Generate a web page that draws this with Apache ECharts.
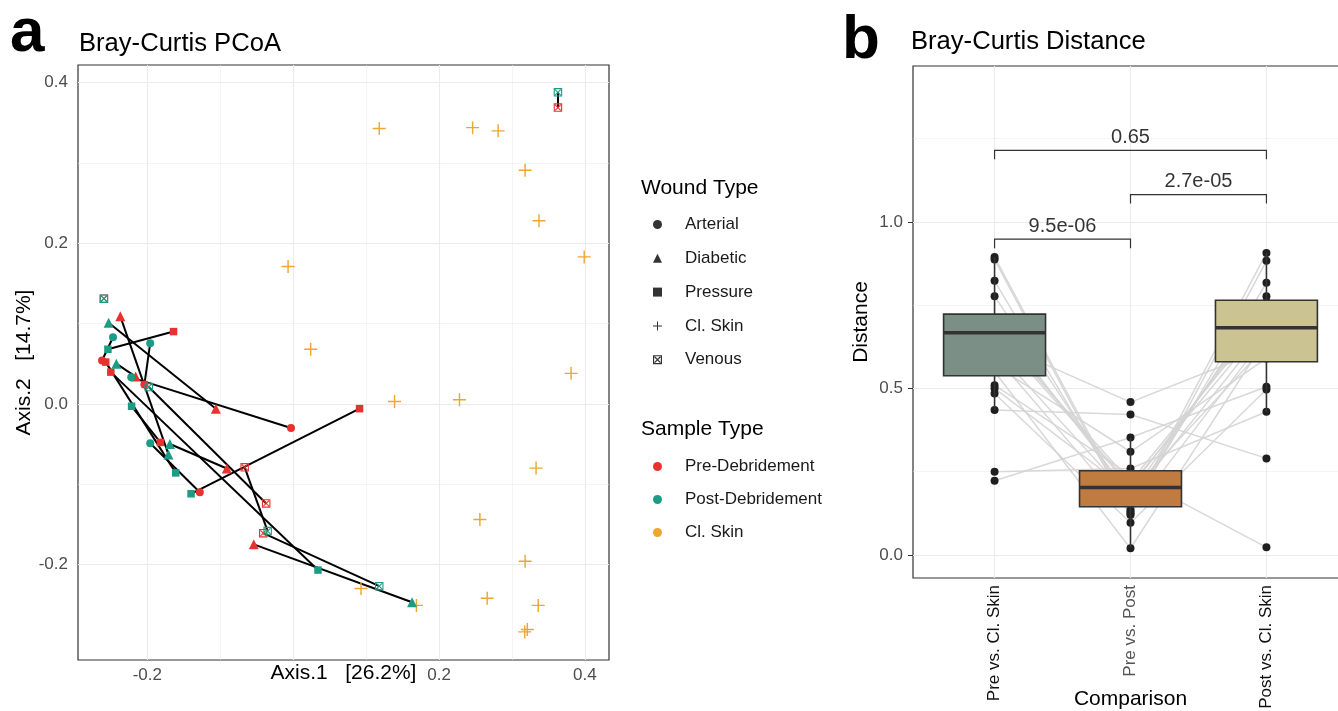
<!DOCTYPE html>
<html>
<head>
<meta charset="utf-8">
<title>Bray-Curtis PCoA / Distance</title>
<script src="https://cdn.jsdelivr.net/npm/echarts@6/dist/echarts.min.js"></script>
<style>
  html, body { margin: 0; padding: 0; background: #fff; }
  #chart { width: 1338px; height: 711px; }
</style>
</head>
<body>
<div id="chart"></div>
<script>
// ---- panel a: PCoA coordinates, [Axis.1, Axis.2, wound type, subject] ----
var preDebridement = [
  [-0.2595, 0.131, 'Venous', 1],
  [0.363, 0.369, 'Venous', 2],
  [-0.164, 0.090, 'Pressure', 3],
  [-0.106, -0.006, 'Diabetic', 4],
  [-0.204, 0.024, 'Arterial', 5],
  [-0.003, -0.030, 'Arterial', 6],
  [0.091, -0.006, 'Pressure', 7],
  [-0.128, -0.110, 'Arterial', 8],
  [-0.237, 0.109, 'Diabetic', 9],
  [-0.0665, -0.079, 'Venous', 10],
  [-0.041, -0.161, 'Venous', 11],
  [-0.054, -0.175, 'Diabetic', 12],
  [-0.250, 0.0395, 'Pressure', 13],
  [-0.037, -0.124, 'Venous', 14],
  [-0.262, 0.054, 'Arterial', 15],
  [-0.257, 0.052, 'Pressure', 16],
  [-0.182, -0.048, 'Pressure', 17],
  [-0.216, 0.034, 'Diabetic', 18],
  [-0.091, -0.0805, 'Diabetic', 19]
];
var postDebridement = [
  [-0.2595, 0.131, 'Venous', 1],
  [0.363, 0.388, 'Venous', 2],
  [-0.254, 0.068, 'Pressure', 3],
  [-0.253, 0.101, 'Diabetic', 4],
  [-0.196, 0.0756, 'Arterial', 5],
  [-0.222, 0.033, 'Arterial', 6],
  [-0.140, -0.112, 'Pressure', 7],
  [-0.196, -0.049, 'Arterial', 8],
  [-0.171, -0.063, 'Diabetic', 9],
  [-0.035, -0.1585, 'Venous', 10],
  [0.118, -0.227, 'Venous', 11],
  [0.163, -0.247, 'Diabetic', 12],
  [0.034, -0.207, 'Pressure', 13],
  [-0.198, 0.021, 'Venous', 14],
  [-0.247, 0.083, 'Arterial', 15],
  [-0.161, -0.086, 'Pressure', 16],
  [-0.2215, -0.003, 'Pressure', 17],
  [-0.2425, 0.050, 'Diabetic', 18],
  [-0.169, -0.050, 'Diabetic', 19]
];
var clSkin = [
  [0.118, 0.343], [0.246, 0.344], [0.281, 0.340], [0.318, 0.291],
  [0.337, 0.228], [0.399, 0.183], [-0.007, 0.171], [0.024, 0.068],
  [0.381, 0.038], [0.139, 0.003], [0.228, 0.005], [0.333, -0.080],
  [0.256, -0.144], [0.318, -0.196], [0.093, -0.230], [0.169, -0.251],
  [0.266, -0.242], [0.336, -0.251], [0.3175, -0.284], [0.321, -0.281]
];
var woundTypes = ['Arterial', 'Diabetic', 'Pressure', 'Cl. Skin', 'Venous'];
var sampleTypes = ['Pre-Debridement', 'Post-Debridement', 'Cl. Skin'];
var pcoaTicks = [-0.2, 0, 0.2, 0.4];
var pcoaMinor = [-0.1, 0.1, 0.3];

// ---- panel b: Bray-Curtis distance per subject ----
var comparisons = ['Pre vs. Cl. Skin', 'Pre vs. Post', 'Post vs. Cl. Skin'];
var preVsClSkin = [0.895, 0.887, 0.823, 0.777, 0.71, 0.69, 0.675, 0.667, 0.64, 0.62,
  0.60, 0.57, 0.55, 0.51, 0.50, 0.485, 0.435, 0.25, 0.223];
var preVsPost = [0.13, 0.12, 0.135, 0.16, 0.18, 0.20, 0.22, 0.21, 0.459, 0.17,
  0.125, 0.31, 0.02, 0.24, 0.19, 0.097, 0.422, 0.26, 0.353];
var postVsClSkin = [0.907, 0.883, 0.817, 0.777, 0.76, 0.74, 0.72, 0.70, 0.62, 0.68,
  0.66, 0.59, 0.65, 0.023, 0.63, 0.497, 0.29, 0.43, 0.505];
// lower whisker, Q1, median, Q3, upper whisker
var boxStats = [
  [0.435, 0.538, 0.667, 0.723, 0.895],
  [0.02, 0.145, 0.203, 0.253, 0.353],
  [0.43, 0.58, 0.682, 0.765, 0.907]
];
var pLabels = ['9.5e-06', '2.7e-05', '0.65'];
var pPairs = [[1, 2], [2, 3], [1, 3]];
var pHeights = [0.948, 1.082, 1.215];
var distTicks = [0, 0.5, 1];
var distMinor = [0.25, 0.75, 1.25];

var colors = {
  'Pre-Debridement': '#e8322f',
  'Post-Debridement': '#1c9c85',
  'Cl. Skin': '#eea632'
};
var boxColors = ['#7b8f86', '#bf7b40', '#cbc392'];

var FONT = 'Liberation Sans, Arial, Helvetica, sans-serif';

// symbol shapes for wound type
var shapes = {
  'Arterial': 'circle',
  'Diabetic': 'triangle',
  'Pressure': 'rect',
  'Cl. Skin': 'path://M4.45,0H5.55V4.45H10V5.55H5.55V10H4.45V5.55H0V4.45H4.45Z',
  'Venous': 'path://M0,0H10V10H0ZM1.3,1.3V8.7H8.7V1.3Z' +
    'M1.3,2.2L2.2,1.3L8.7,7.8L7.8,8.7Z' +
    'M7.8,1.3L8.7,2.2L2.2,8.7L1.3,7.8Z'
};
var shapeSizes = {'Arterial': 8, 'Diabetic': 10, 'Pressure': 7.5, 'Cl. Skin': 13, 'Venous': 8.5};

function gridLines(values, axis, width) {
  return values.map(function (v) {
    var o = {lineStyle: {width: width}};
    o[axis] = v;
    return o;
  });
}

// pre -> post connecting segments, matched by subject
var pairSegments = [];
preDebridement.forEach(function (p) {
  postDebridement.forEach(function (q) {
    if (q[3] === p[3]) pairSegments.push({coords: [[p[0], p[1]], [q[0], q[1]]]});
  });
});

// per-subject grey paths through the three comparisons
var subjectPaths = preVsClSkin.map(function (v, i) {
  return {coords: [[1, v], [2, preVsPost[i]], [3, postVsClSkin[i]]]};
});
var distPoints = [];
[preVsClSkin, preVsPost, postVsClSkin].forEach(function (arr, k) {
  arr.forEach(function (v) { distPoints.push([k + 1, v]); });
});

var brackets = pPairs.map(function (pr, i) {
  var h = pHeights[i], d = 0.027;
  return {coords: [[pr[0], h - d], [pr[0], h], [pr[1], h], [pr[1], h - d]]};
});
var bracketLabels = pPairs.map(function (pr, i) {
  return {value: [(pr[0] + pr[1]) / 2, pHeights[i]], label: {formatter: pLabels[i]}};
});

function scatterSeries(name, data) {
  return {
    name: name,
    type: 'scatter',
    xAxisIndex: 0, yAxisIndex: 0,
    data: data,
    symbol: function (val) { return shapes[val[2] || 'Cl. Skin']; },
    symbolSize: function (val) { return shapeSizes[val[2] || 'Cl. Skin']; },
    itemStyle: {color: colors[name], opacity: 1},
    z: 5
  };
}

var chart = echarts.init(document.getElementById('chart'), null, {renderer: 'canvas'});

var series = [
  {
    type: 'lines',
    coordinateSystem: 'cartesian2d',
    xAxisIndex: 0, yAxisIndex: 0,
    data: pairSegments,
    lineStyle: {color: '#000', width: 2, opacity: 1},
    silent: true,
    z: 3,
    markLine: {
      silent: true, symbol: 'none', label: {show: false},
      lineStyle: {color: '#ebebeb', type: 'solid'},
      data: gridLines(pcoaTicks, 'xAxis', 1.1).concat(gridLines(pcoaTicks, 'yAxis', 1.1))
        .concat(gridLines(pcoaMinor, 'xAxis', 0.55)).concat(gridLines(pcoaMinor, 'yAxis', 0.55)),
      z: 1
    }
  },
  scatterSeries('Cl. Skin', clSkin),
  scatterSeries('Pre-Debridement', preDebridement),
  scatterSeries('Post-Debridement', postDebridement)
];

// legend-only series for wound type shapes
woundTypes.forEach(function (w) {
  series.push({
    name: 'shape:' + w,
    type: 'scatter',
    xAxisIndex: 0, yAxisIndex: 0,
    data: [],
    symbol: shapes[w],
    itemStyle: {color: '#000'}
  });
});

series.push(
  {
    type: 'lines',
    coordinateSystem: 'cartesian2d',
    xAxisIndex: 1, yAxisIndex: 1,
    polyline: true,
    data: subjectPaths,
    lineStyle: {color: '#d4d4d4', width: 1.5, opacity: 0.9},
    silent: true,
    z: 2,
    markLine: {
      silent: true, symbol: 'none', label: {show: false},
      lineStyle: {color: '#ebebeb', type: 'solid'},
      data: gridLines([1, 2, 3], 'xAxis', 1.1).concat(gridLines(distTicks, 'yAxis', 1.1))
        .concat(gridLines(distMinor, 'yAxis', 0.55)),
      z: 1
    }
  },
  {
    type: 'scatter',
    xAxisIndex: 1, yAxisIndex: 1,
    data: distPoints,
    symbol: 'circle',
    symbolSize: 8,
    itemStyle: {color: '#1f1f1f', opacity: 1},
    z: 3
  },
  {
    type: 'custom',
    xAxisIndex: 1, yAxisIndex: 1,
    data: boxStats.map(function (b, i) { return [i + 1].concat(b); }),
    encode: {x: 0, y: [1, 2, 3, 4, 5]},
    z: 4,
    renderItem: function (params, api) {
      var x = api.value(0);
      var lo = api.coord([x, api.value(1)]);
      var q1 = api.coord([x, api.value(2)]);
      var med = api.coord([x, api.value(3)]);
      var q3 = api.coord([x, api.value(4)]);
      var hi = api.coord([x, api.value(5)]);
      var half = api.size([0.75, 0])[0] / 2;
      var stroke = {stroke: '#333333', lineWidth: 1.6};
      return {
        type: 'group',
        children: [
          {type: 'line', shape: {x1: lo[0], y1: lo[1], x2: q1[0], y2: q1[1]}, style: stroke},
          {type: 'line', shape: {x1: q3[0], y1: q3[1], x2: hi[0], y2: hi[1]}, style: stroke},
          {type: 'rect', shape: {x: q3[0] - half, y: q3[1], width: half * 2, height: q1[1] - q3[1]},
            style: {fill: boxColors[params.dataIndex], stroke: '#333333', lineWidth: 1.6}},
          {type: 'line', shape: {x1: med[0] - half, y1: med[1], x2: med[0] + half, y2: med[1]},
            style: {stroke: '#333333', lineWidth: 3.5}}
        ]
      };
    }
  },
  {
    type: 'lines',
    coordinateSystem: 'cartesian2d',
    xAxisIndex: 1, yAxisIndex: 1,
    polyline: true,
    data: brackets,
    lineStyle: {color: '#333', width: 1.2, opacity: 1},
    silent: true,
    z: 5
  },
  {
    type: 'scatter',
    xAxisIndex: 1, yAxisIndex: 1,
    data: bracketLabels,
    symbolSize: 0,
    label: {show: true, position: 'top', distance: 3, color: '#000', fontSize: 20, fontFamily: FONT},
    silent: true,
    z: 5
  }
);

var tickLabel = {fontSize: 17, color: '#4d4d4d', fontFamily: FONT};
function titleStyle(size, bold) {
  return {fontSize: size, fontWeight: bold ? 'bold' : 'normal', color: '#000', fontFamily: FONT};
}

var option = {
  animation: false,
  textStyle: {fontFamily: FONT},
  title: [
    {text: 'a', left: 10, top: 3, padding: 0, textStyle: titleStyle(62, true)},
    {text: 'Bray-Curtis PCoA', left: 79, top: 31, padding: 0, textStyle: titleStyle(25.6)},
    {text: 'b', left: 842, top: 10, padding: 0, textStyle: titleStyle(62, true)},
    {text: 'Bray-Curtis Distance', left: 911, top: 29, padding: 0, textStyle: titleStyle(25.6)},
    {text: 'Wound Type', left: 641, top: 178, padding: 0, textStyle: titleStyle(21)},
    {text: 'Sample Type', left: 641, top: 419, padding: 0, textStyle: titleStyle(21)}
  ],
  legend: [
    {
      orient: 'vertical', left: 653, top: 216, padding: 0,
      itemWidth: 9, itemHeight: 9, itemGap: 16.8,
      selectedMode: false,
      data: woundTypes.map(function (w) { return 'shape:' + w; }),
      formatter: function (n) { return n.replace('shape:', ''); },
      textStyle: {fontSize: 17, color: '#1a1a1a', fontFamily: FONT, padding: [0, 0, 0, 18]}
    },
    {
      orient: 'vertical', left: 653, top: 458, padding: 0,
      itemWidth: 9, itemHeight: 9, itemGap: 16,
      selectedMode: false,
      data: sampleTypes.map(function (s) { return {name: s, icon: 'circle'}; }),
      textStyle: {fontSize: 17, color: '#1a1a1a', fontFamily: FONT, padding: [0, 0, 0, 18]}
    }
  ],
  grid: [
    {left: 78, right: 729, top: 65, bottom: 51, show: true, borderColor: '#333', borderWidth: 1.2,
      backgroundColor: 'transparent', outerBoundsMode: 'none', containLabel: false},
    {left: 913, right: -10, top: 66, bottom: 133, show: true, borderColor: '#333', borderWidth: 1.2,
      backgroundColor: 'transparent', outerBoundsMode: 'none', containLabel: false}
  ],
  xAxis: [
    {
      type: 'value', gridIndex: 0, min: -0.295, max: 0.433,
      name: 'Axis.1   [26.2%]', nameLocation: 'middle', nameGap: 3, nameMoveOverlap: false,
      nameTextStyle: {fontSize: 21, color: '#000', fontFamily: FONT},
      axisLine: {show: false},
      axisTick: {show: true, length: 5, lineStyle: {color: '#333'}, customValues: pcoaTicks},
      axisLabel: Object.assign({margin: 7, customValues: [-0.2, 0.2, 0.4], formatter: function (v) { return v.toFixed(1); }}, tickLabel),
      splitLine: {show: false}
    },
    {
      type: 'value', gridIndex: 1, min: 0.4, max: 3.6,
      name: 'Comparison', nameLocation: 'middle', nameGap: 111, nameMoveOverlap: false,
      nameTextStyle: {fontSize: 21, color: '#000', fontFamily: FONT},
      axisLine: {show: false},
      axisTick: {show: true, length: 5, lineStyle: {color: '#333'}, customValues: [1, 2, 3]},
      axisLabel: Object.assign({}, tickLabel, {
        margin: 7, rotate: 90, customValues: [1, 2, 3],
        formatter: function (v) { return comparisons[Math.round(v) - 1]; },
        color: function (v) { return Math.round(v) === 2 ? '#555555' : '#111111'; }
      }),
      splitLine: {show: false}
    }
  ],
  yAxis: [
    {
      type: 'value', gridIndex: 0, min: -0.319, max: 0.422,
      name: 'Axis.2   [14.7%]', nameLocation: 'middle', nameGap: 43, nameRotate: 90, nameMoveOverlap: false,
      nameTextStyle: {fontSize: 21, color: '#000', fontFamily: FONT},
      axisLine: {show: false},
      axisTick: {show: true, length: 5, lineStyle: {color: '#333'}, customValues: pcoaTicks},
      axisLabel: Object.assign({margin: 10, customValues: pcoaTicks, formatter: function (v) { return v.toFixed(1); }}, tickLabel),
      splitLine: {show: false}
    },
    {
      type: 'value', gridIndex: 1, min: -0.069, max: 1.468,
      name: 'Distance', nameLocation: 'middle', nameGap: 41, nameRotate: 90, nameMoveOverlap: false,
      nameTextStyle: {fontSize: 21, color: '#000', fontFamily: FONT},
      axisLine: {show: false},
      axisTick: {show: true, length: 5, lineStyle: {color: '#333'}, customValues: distTicks},
      axisLabel: Object.assign({margin: 10, customValues: distTicks, formatter: function (v) { return v.toFixed(1); }}, tickLabel),
      splitLine: {show: false}
    }
  ],
  series: series
};

chart.setOption(option);
</script>
</body>
</html>
